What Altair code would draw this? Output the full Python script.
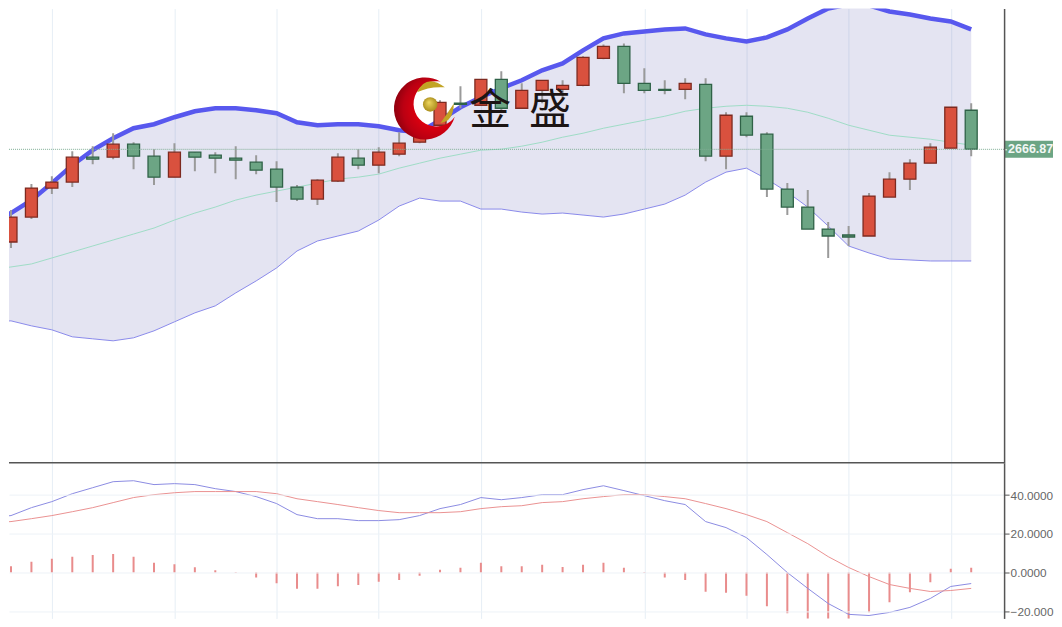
import altair as alt
import pandas as pd

opens = [2574,2599,2628,2634,2659,2659,2672,2660,2639,2664,2661,2658,2654,2647,2629,2617,2635,2658,2651,2662,2674,2691,2713,2711,2737,2708,2726,2727,2731,2758,2770,2733,2727,2727,2732,2660,2700,2682,2627,2609,2587,2581,2580,2619,2637,2653,2668,2706]
closes = [2599,2628,2634,2659,2657,2672,2660,2639,2664,2659,2658,2656,2646,2629,2617,2636,2659,2651,2664,2673,2691,2714,2712,2737,2708,2726,2736,2731,2759,2770,2733,2726,2726,2733,2660,2701,2681,2627,2609,2587,2580,2579,2620,2637,2653,2669,2709,2667]
highs = [2606,2632,2640,2665,2670,2683,2674,2667,2673,2664,2664,2670,2661,2655,2631,2637,2663,2667,2669,2684,2696,2716,2730,2737,2745,2733,2736,2736,2760,2772,2773,2748,2736,2738,2738,2704,2704,2684,2633,2626,2594,2590,2623,2644,2657,2673,2709,2713]
lows = [2568,2597,2622,2629,2652,2657,2647,2631,2639,2645,2643,2637,2642,2614,2615,2611,2634,2647,2643,2660,2673,2688,2708,2711,2706,2708,2713,2718,2730,2757,2723,2723,2722,2717,2655,2647,2679,2619,2601,2587,2558,2570,2580,2619,2626,2653,2668,2660]

band_index = list(range(-1, 48))
upper = [2592,2603,2616,2633,2651,2666,2678,2688,2692,2699,2705,2708,2708,2706,2703,2694,2691,2692,2692,2690,2686,2684,2696,2709,2719,2728,2736,2746,2753,2766,2778,2783,2785,2787,2788,2782,2778,2775,2779,2787,2798,2808,2812,2811,2805,2802,2798,2795,2787]
middle = [2546,2549,2552,2558,2564,2570,2576,2582,2588,2596,2603,2609,2616,2621,2625,2629,2633,2637,2639,2642,2648,2653,2658,2662,2666,2667,2670,2674,2679,2683,2688,2692,2696,2700,2705,2708,2710,2711,2710,2708,2704,2698,2691,2686,2681,2679,2677,2674,2671]
lower = [2494,2495,2490,2486,2479,2477,2475,2478,2485,2494,2503,2510,2523,2535,2548,2565,2575,2580,2585,2596,2610,2618,2615,2615,2607,2607,2604,2602,2603,2601,2599,2602,2607,2612,2621,2634,2644,2648,2637,2624,2609,2590,2570,2563,2557,2556,2555,2555,2555]

dif = [28.4,29.4,33.5,36.6,40.7,43.8,46.9,47.4,45.4,45.9,45.4,43.3,41.8,39.2,35.6,29.9,27.8,27.8,26.8,26.8,27.3,29.4,33.0,35.1,38.7,37.6,38.7,40.2,40.2,42.8,44.8,42.3,39.7,37.1,35.1,26.3,23.2,18.0,9.3,0.0,-8.2,-16.0,-21.6,-22.2,-20.6,-18.0,-13.4,-7.2,-5.7]
dea = [25.8,26.3,27.8,29.4,31.4,33.5,36.1,38.7,40.2,41.2,41.8,41.8,41.8,41.8,40.7,38.1,36.6,35.1,33.5,32.0,30.9,30.9,30.9,31.4,33.0,34.0,34.5,36.1,36.6,38.1,39.2,40.2,40.2,39.2,38.1,35.6,33.0,29.9,26.3,20.6,14.9,8.2,2.6,-2.1,-6.2,-8.2,-9.8,-9.3,-8.2]
hist = [3.2,5.5,7.1,8.2,9.1,9.6,8.1,5.0,4.3,2.7,1.2,0.3,-2.6,-5.5,-8.4,-8.4,-7.1,-6.5,-4.8,-3.8,-1.7,1.4,2.4,5.0,3.2,3.2,4.0,2.9,4.0,5.0,2.4,-0.3,-2.6,-3.8,-9.9,-10.5,-12.0,-17.4,-21.0,-24.1,-25.1,-25.1,-20.5,-15.3,-10.2,-5.0,1.9,2.4]

grid_at = [2, 8, 13, 18, 23, 31, 36, 41, 46]
macd_ticks = [40, 20, 0, -20]
last_price = 2666.87

PW, PH1, PH2 = 997, 455, 156
FONT = "Liberation Sans"

candles = pd.DataFrame({"i": range(48), "o": opens, "c": closes, "h": highs, "l": lows})
candles["hi_body"] = candles[["o", "c"]].max(axis=1)
candles["lo_body"] = candles[["o", "c"]].min(axis=1)
candles["up"] = candles["c"] >= candles["o"]
band = pd.DataFrame({"i": band_index, "upper": upper, "middle": middle, "lower": lower, "dif": dif, "dea": dea})
bars = pd.DataFrame({"i": range(48), "hist": hist, "zero": [0] * 48})
price = pd.DataFrame({"i": [0], "p": [last_price], "a": [last_price - 8.5], "b": [last_price + 8.5], "t": [f"{last_price:.2f}"]})
one = pd.DataFrame({"a": [0]})

xs = alt.Scale(domain=[-0.0977, 48.61], nice=False, zero=False, padding=0)
ys = alt.Scale(domain=[2352.87, 2807.87], nice=False, zero=False, padding=0)
ms = alt.Scale(domain=[-23.7, 56.7], nice=False, zero=False, padding=0)

X = alt.X("i:Q", scale=xs, axis=None)
Xgrid = alt.X("i:Q", scale=xs, axis=alt.Axis(values=grid_at, grid=True, gridColor="#e6eef5", gridWidth=1, labels=False, ticks=False, domain=False, title=None))

def Yp(f):
    return alt.Y(f, type="quantitative", scale=ys, axis=None)

def Ym(f):
    return alt.Y(f, type="quantitative", scale=ms, axis=None)

axis_top = alt.Chart(price).mark_rule(opacity=0).encode(
    x=Xgrid,
    y=alt.Y("p:Q", scale=ys, axis=alt.Axis(orient="right", values=[last_price], labels=False, grid=False, title=None,
                                           domainColor="#555555", domainWidth=1.5, tickColor="#ffffff", tickSize=2.5, zindex=1)),
)
base_band = alt.Chart(band)
area = base_band.mark_area(color="#5555ae", opacity=0.16, clip=True, orient="vertical").encode(x=X, y=Yp("upper"), y2="lower:Q")
mid_line = base_band.mark_line(color="#9fdcc6", strokeWidth=1, clip=True).encode(x=X, y=Yp("middle"))
low_line = base_band.mark_line(color="#8a8aea", strokeWidth=1, clip=True).encode(x=X, y=Yp("lower"))
up_line = base_band.mark_line(color="#5858ee", strokeWidth=4.5, clip=True).encode(x=X, y=Yp("upper"))
price_rule = alt.Chart(price).mark_rule(color="#7fae95", strokeWidth=1, strokeDash=[1, 1]).encode(
    y=Yp("p"), x=alt.value(0), x2=alt.value(PW))
wicks = alt.Chart(candles).mark_rule(color="#9a9a9a", strokeWidth=2, clip=True).encode(x=X, y=Yp("h"), y2="l:Q")
colour = alt.condition("datum.up", alt.value("#d9513e"), alt.value("#6ca584"))
edge = alt.condition("datum.up", alt.value("#7d2a20"), alt.value("#2f6247"))
bodies = alt.Chart(candles).mark_bar(size=12, strokeWidth=1.3, clip=True, orient="vertical").encode(
    x=X, y=Yp("hi_body"), y2="lo_body:Q", fill=colour, stroke=edge)
tag = alt.Chart(price).mark_rect(color="#6ca584").encode(
    x=alt.value(PW), x2=alt.value(1046), y=Yp("a"), y2="b:Q")
tag_text = alt.Chart(price).mark_text(align="left", baseline="middle", font=FONT, fontSize=12.5, fontWeight="bold", color="#f2f7f4").encode(
    x=alt.value(1001), y=Yp("p"), text="t:N")

LX, LY = 415, 100
LOGO_SIZE = 3844
crescent = "M 0.56 -0.86 A 1 1 0 1 0 1.02 0.27 A 0.73 0.73 0 1 1 0.56 -0.86 Z"
swoosh_a = "M -0.2 -0.52 Q 0.1 -1.15 0.7 -0.68 Q 0.2 -0.72 -0.2 -0.52 Z"
swoosh_b = "M 0.56 0.47 Q 0.98 0.42 0.99 -0.16 Q 0.82 0.1 0.56 0.47 Z"
red_fill = {"gradient": "radial", "x1": 0.66, "y1": 0.5, "r1": 0.2, "x2": 0.66, "y2": 0.5, "r2": 0.75,
            "stops": [{"offset": 0, "color": "#e8000f"}, {"offset": 0.55, "color": "#bb0012"}, {"offset": 1, "color": "#72000c"}]}
gold_fill = {"gradient": "radial", "x1": 0.4, "y1": 0.35, "r1": 0, "x2": 0.5, "y2": 0.5, "r2": 0.55,
             "stops": [{"offset": 0, "color": "#f0d860"}, {"offset": 1, "color": "#a68a18"}]}
logo = alt.Chart(one)
at = dict(x=alt.value(LX), y=alt.value(LY))
logo_layers = [
    logo.mark_point(shape=crescent, size=LOGO_SIZE, filled=True, opacity=1, fill=red_fill, strokeWidth=0).encode(**at),
    logo.mark_point(shape=swoosh_a, size=LOGO_SIZE, filled=True, opacity=1, fill="#c2a425", strokeWidth=0).encode(**at),
    logo.mark_point(shape=swoosh_b, size=LOGO_SIZE, filled=True, opacity=1, fill="#c2a425", strokeWidth=0).encode(**at),
    logo.mark_point(shape="circle", size=210, filled=True, opacity=1, fill=gold_fill, strokeWidth=0).encode(x=alt.value(LX + 7), y=alt.value(LY - 4)),
    logo.mark_text(text="金", font="Noto Sans CJK SC", fontSize=42, color="#1c1514", baseline="middle", align="center").encode(x=alt.value(482), y=alt.value(103)),
    logo.mark_text(text="盛", font="Noto Sans CJK SC", fontSize=42, color="#1c1514", baseline="middle", align="center").encode(x=alt.value(542), y=alt.value(103)),
]

top = alt.layer(axis_top, area, mid_line, low_line, up_line, wicks, bodies, price_rule, tag, tag_text, *logo_layers).resolve_axis(x="independent", y="independent").properties(width=PW, height=PH1)

axis_bot = alt.Chart(bars).mark_rule(opacity=0).encode(
    x=Xgrid,
    y=alt.Y("zero:Q", scale=ms, axis=alt.Axis(orient="right", values=macd_ticks, grid=True, gridColor="#edf2f7", title=None,
                                              domainColor="#555555", domainWidth=1.5, tickColor="#555555", tickSize=5,
                                              labelColor="#666666", labelFont=FONT, labelFontSize=11.8, labelPadding=1,
                                              labelExpr="substring(format(datum.value,'.4f'),0,7)", zindex=1)),
)
hist_bars = alt.Chart(bars).mark_rule(color="#e98c8c", strokeWidth=2, clip=True).encode(x=X, y=Ym("zero"), y2="hist:Q")
dif_line = alt.Chart(band).mark_line(color="#8c8ce2", strokeWidth=1, clip=True).encode(x=X, y=Ym("dif"))
dea_line = alt.Chart(band).mark_line(color="#ea9292", strokeWidth=1, clip=True).encode(x=X, y=Ym("dea"))
top_border = alt.Chart(one).mark_rule(color="#555555", strokeWidth=1.5).encode(x=alt.value(0), x2=alt.value(PW), y=alt.value(0))

bottom = alt.layer(axis_bot, hist_bars, dif_line, dea_line, top_border).resolve_axis(x="independent", y="independent").properties(width=PW, height=PH2)

chart = alt.vconcat(top, bottom, spacing=0, bounds="flush").properties(padding=0).configure_view(stroke=None)
chart.save("out.html", embed_options={"renderer": "svg", "actions": False})
